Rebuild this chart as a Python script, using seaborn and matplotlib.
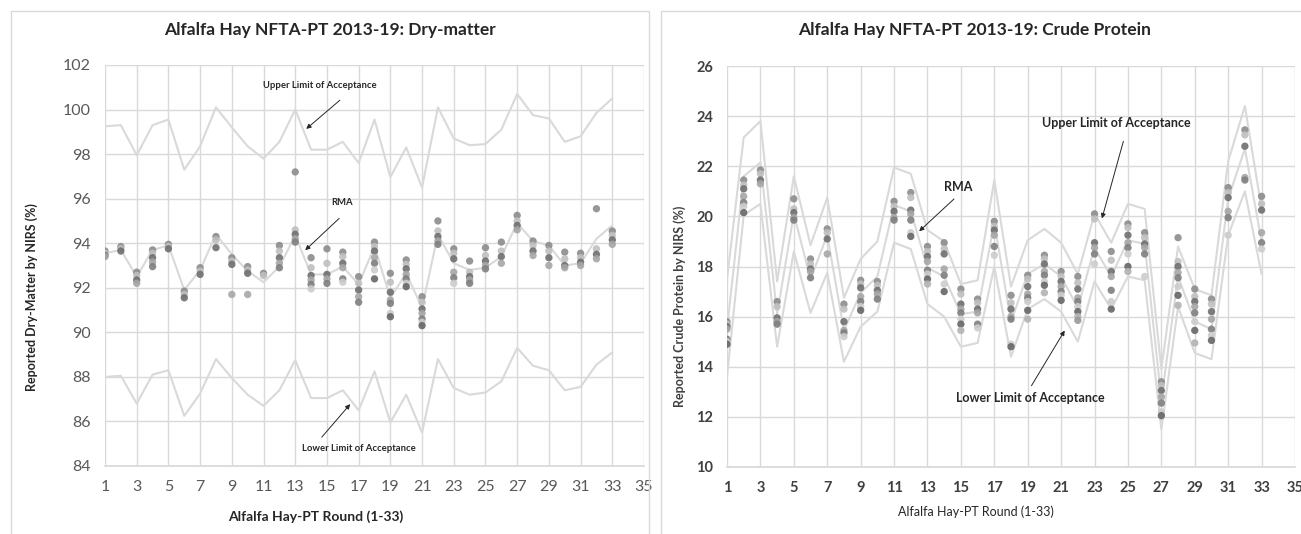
import numpy as np
import pandas as pd
import matplotlib.pyplot as plt
import seaborn as sns
from matplotlib.patches import Rectangle

rounds = list(range(1, 34))

# Dry-matter (left panel)
dm_upper = [99.25, 99.3, 97.95, 99.3, 99.55, 97.3, 98.35, 100.1, 99.2, 98.35, 97.8,
            98.55, 100.0, 98.2, 98.2, 98.55, 97.6, 99.55, 96.97, 98.3, 96.5, 100.1,
            98.7, 98.4, 98.45, 99.1, 100.7, 99.75, 99.6, 98.55, 98.8, 99.85, 100.5]
dm_rma = [93.55, 93.7, 92.5, 93.7, 93.9, 91.9, 92.8, 94.4, 93.5, 92.75, 92.25,
          92.95, 94.35, 92.6, 92.6, 92.95, 92.15, 93.85, 91.55, 92.65, 91.1, 94.4,
          93.1, 92.8, 92.9, 93.4, 94.9, 94.1, 93.9, 93.0, 93.1, 94.2, 94.8]
dm_lower = [88.0, 88.05, 86.8, 88.1, 88.3, 86.25, 87.25, 88.8, 87.95, 87.2, 86.7,
            87.4, 88.75, 87.05, 87.05, 87.4, 86.5, 88.25, 85.95, 87.2, 85.5, 88.8,
            87.5, 87.2, 87.3, 87.8, 89.3, 88.5, 88.3, 87.4, 87.55, 88.55, 89.1]
dm_points = [
    [93.65, 93.55, 93.45, 93.4],
    [93.85, 93.75, 93.65],
    [92.7, 92.55, 92.35, 92.2],
    [93.7, 93.55, 93.35, 93.15, 92.95],
    [93.95, 93.85, 93.75],
    [91.85, 91.7, 91.55],
    [92.9, 92.75, 92.6],
    [94.3, 94.15, 93.8],
    [93.35, 93.2, 93.05, 91.7],
    [92.95, 92.8, 92.65, 91.7],
    [92.65, 92.55],
    [93.9, 93.65, 93.35, 93.1, 92.9],
    [97.2, 94.6, 94.4, 94.2, 94.05],
    [93.35, 92.9, 92.55, 92.35, 92.15, 91.95],
    [93.75, 93.1, 92.6, 92.4, 92.2],
    [93.6, 93.4, 93.1, 92.9, 92.4, 92.25],
    [92.5, 92.2, 91.9, 91.6, 91.35],
    [94.05, 93.85, 93.65, 93.35, 93.1, 92.8, 92.4],
    [92.65, 92.25, 91.8, 91.45, 91.3, 90.85, 90.7],
    [93.25, 93.05, 92.85, 92.6, 92.4, 92.2, 92.05],
    [91.6, 91.35, 91.05, 90.85, 90.6, 90.45, 90.3],
    [95.0, 94.55, 94.3, 94.1, 93.95],
    [93.75, 93.55, 93.3, 92.7, 92.45, 92.2],
    [93.2, 92.7, 92.5, 92.35, 92.2],
    [93.8, 93.45, 93.2, 93.0, 92.85],
    [94.05, 93.65, 93.4, 93.1],
    [95.25, 95.0, 94.8, 94.6],
    [94.1, 93.9, 93.65, 93.45],
    [93.9, 93.65, 93.35, 93.0],
    [93.6, 93.3, 93.0, 92.9],
    [93.55, 93.35, 93.15, 93.0],
    [95.55, 93.75, 93.5, 93.3],
    [94.55, 94.35, 94.15, 93.95],
]

# Crude protein (right panel)
cp_upper = [17.5, 23.15, 23.8, 17.4, 21.6, 18.85, 20.75, 16.75, 18.3, 19.0, 21.95,
            21.7, 19.45, 19.0, 17.3, 17.45, 21.45, 17.2, 19.05, 19.5, 18.95, 17.7,
            20.1, 18.95, 20.5, 20.3, 13.9, 18.8, 17.1, 16.85, 22.2, 24.4, 20.3]
cp_rma = [15.5, 21.6, 22.15, 16.1, 20.1, 17.5, 19.25, 15.45, 16.95, 17.6, 20.45,
          20.2, 17.95, 17.6, 16.1, 16.2, 19.75, 15.8, 17.7, 18.1, 17.6, 16.35,
          18.75, 17.6, 19.05, 18.9, 12.7, 17.6, 15.8, 15.5, 20.7, 22.7, 19.0]
cp_lower = [13.6, 20.05, 20.5, 14.8, 18.6, 16.15, 17.75, 14.2, 15.6, 16.2, 18.95,
            18.7, 16.5, 16.0, 14.8, 14.95, 18.0, 14.4, 16.3, 16.7, 16.2, 15.0,
            17.4, 16.3, 17.6, 17.45, 11.5, 16.4, 14.55, 14.3, 19.25, 21.0, 17.7]
cp_points = [
    [15.8, 15.7, 15.6, 15.5, 15.1, 15.0, 14.9],
    [21.45, 21.25, 21.1, 20.8, 20.55, 20.4, 20.15],
    [21.85, 21.7, 21.45, 21.3],
    [16.6, 16.4, 15.95, 15.8, 15.7],
    [20.7, 20.3, 20.15, 19.95, 19.85],
    [18.3, 18.1, 17.9, 17.8, 17.55],
    [19.5, 19.35, 19.1, 18.5],
    [16.5, 16.3, 15.8, 15.45, 15.35, 15.2],
    [17.45, 17.3, 17.15, 16.8, 16.6, 16.4, 16.25],
    [17.4, 17.25, 17.05, 16.9, 16.7],
    [20.6, 20.4, 20.2, 19.95, 19.85],
    [20.95, 20.75, 20.25, 20.1, 19.85, 19.35, 19.2],
    [18.8, 18.6, 18.4, 18.2, 17.85, 17.7, 17.5, 17.3],
    [18.95, 18.7, 18.5, 17.9, 17.65, 17.3, 17.0],
    [17.1, 16.9, 16.5, 16.3, 16.15, 15.9, 15.7, 15.45],
    [16.7, 16.55, 16.3, 16.15, 15.7, 15.55],
    [19.8, 19.6, 19.45, 19.25, 18.8, 18.45],
    [16.85, 16.55, 16.3, 16.0, 15.9, 14.9, 14.8],
    [17.65, 17.5, 17.2, 16.9, 16.75, 16.6, 16.25, 15.9],
    [18.45, 18.3, 18.1, 17.8, 17.65, 17.4, 17.25, 16.95],
    [17.8, 17.6, 17.4, 17.2, 17.0, 16.85, 16.65],
    [17.6, 17.35, 17.1, 16.75, 16.6, 16.4, 16.2, 16.0, 15.85],
    [20.1, 19.9, 18.95, 18.75, 18.5, 18.1],
    [18.6, 18.25, 17.8, 17.6, 17.05, 16.6, 16.3],
    [19.7, 19.55, 19.25, 18.95, 18.75, 18.5, 18.0, 17.8],
    [19.35, 19.15, 18.9, 18.75, 18.5, 17.6],
    [13.4, 13.25, 13.05, 12.8, 12.55, 12.2, 12.05],
    [19.15, 18.2, 18.0, 17.75, 17.55, 17.2, 16.85, 16.45],
    [17.1, 16.8, 16.6, 16.4, 16.15, 15.8, 15.45, 14.95],
    [16.7, 16.5, 16.2, 15.9, 15.5, 15.25, 15.05],
    [21.15, 20.95, 20.75, 20.2, 19.95, 19.25],
    [23.45, 23.25, 22.8, 21.55, 21.45],
    [20.8, 20.5, 20.25, 19.35, 18.95, 18.7],
]

LINE_GREY = "#d9d9d9"
TEXT_GREY = "#595959"
lab_greys = ["#8c8c8c", "#bfbfbf", "#6f6f6f", "#a6a6a6", "#7f7f7f",
             "#cccccc", "#666666", "#b3b3b3", "#999999"]

sns.set_theme(style="white")
plt.rcParams["font.family"] = ["Lato", "DejaVu Sans"]

W, H = 1301, 534
fig = plt.figure(figsize=(W / 100, H / 100), dpi=100)


def to_long(points):
    rows = []
    for rnd, vals in zip(rounds, points):
        for lab, v in enumerate(vals):
            rows.append({"round": rnd, "lab": lab, "value": v})
    return pd.DataFrame(rows)


def px_axes(x0, x1, y_top, y_bot):
    return fig.add_axes([x0 / W, 1 - y_bot / H, (x1 - x0) / W, (y_bot - y_top) / H])


def draw_panel(ax, upper, rma, lower, points, ylim, bold_ticks):
    for series in (upper, rma, lower):
        sns.lineplot(x=rounds, y=series, color=LINE_GREY, lw=1.5, ax=ax, zorder=2)
    df = to_long(points)
    n_labs = df["lab"].nunique()
    sns.scatterplot(data=df, x="round", y="value", hue="lab",
                    palette=lab_greys[:n_labs], s=28, edgecolor="none",
                    alpha=0.9, legend=False, ax=ax, zorder=3)
    ax.set_xlim(1, 35)
    ax.set_ylim(*ylim)
    ax.set_xticks(range(1, 36, 2))
    ax.set_yticks(range(ylim[0], ylim[1] + 1, 2))
    ax.grid(True, color=LINE_GREY, lw=1.0, zorder=0)
    ax.set_axisbelow(True)
    for s in ax.spines.values():
        s.set_visible(False)
    ax.spines["bottom"].set_visible(True)
    ax.spines["bottom"].set_color(LINE_GREY)
    if bold_ticks:
        ax.tick_params(length=0, pad=10, labelsize=10.5, labelcolor="#404040")
        for t in ax.get_xticklabels() + ax.get_yticklabels():
            t.set_fontweight("bold")
    else:
        ax.tick_params(length=0, pad=10, labelsize=11.5, labelcolor=TEXT_GREY)
    ax.set_xlabel("")
    ax.set_ylabel("")


def note(ax, text, xy_text, xy_tail, xy_head, size):
    ax.text(*xy_text, text, ha="center", va="center", fontsize=size,
            fontweight="bold", color="#262626", zorder=5)
    ax.annotate("", xy=xy_head, xytext=xy_tail,
                arrowprops=dict(arrowstyle="-|>", color="#262626", lw=0.7,
                                mutation_scale=7), zorder=5)


# panel frames
for x0, x1 in [(11, 649), (661, 1305)]:
    fig.add_artist(Rectangle((x0 / W, -0.05), (x1 - x0) / W, 1.05 - 11 / H,
                             transform=fig.transFigure, fill=False,
                             edgecolor=LINE_GREY, lw=1.0))

ax1 = px_axes(105, 644, 65, 466)
draw_panel(ax1, dm_upper, dm_rma, dm_lower, dm_points, (84, 102), False)
note(ax1, "Upper Limit of Acceptance", (14.56, 101.1), (15.95, 100.5), (13.56, 99.05), 6.8)
note(ax1, "RMA", (15.95, 95.85), (15.9, 95.2), (13.5, 93.6), 6.8)
note(ax1, "Lower Limit of Acceptance", (17.03, 84.77), (14.56, 85.2), (16.58, 86.87), 6.8)

ax2 = px_axes(727, 1295, 66, 467)
draw_panel(ax2, cp_upper, cp_rma, cp_lower, cp_points, (10, 26), True)
note(ax2, "Upper Limit of Acceptance", (24.29, 23.72), (24.77, 23.1), (23.4, 19.81), 9)
note(ax2, "RMA", (14.83, 21.17), (14.71, 20.77), (12.38, 19.33), 9)
note(ax2, "Lower Limit of Acceptance", (19.14, 12.75), (19.14, 13.15), (21.3, 15.54), 9)

# titles and axis labels
fig.text(330 / W, 1 - 30 / H, "Alfalfa Hay NFTA-PT 2013-19: Dry-matter",
         ha="center", va="center", fontsize=12.5, fontweight="bold", color="#262626")
fig.text(975 / W, 1 - 30 / H, "Alfalfa Hay NFTA-PT 2013-19: Crude Protein",
         ha="center", va="center", fontsize=12.5, fontweight="bold", color="#262626")
fig.text(32 / W, 1 - 297 / H, "Reported Dry-Matter by NIRS (%)", rotation=90,
         ha="center", va="center", fontsize=9, fontweight="bold", color="#262626")
fig.text(680 / W, 1 - 306 / H, "Reported Crude Protein by NIRS (%)", rotation=90,
         ha="center", va="center", fontsize=9, fontweight="bold", color="#404040")
fig.text(316 / W, 1 - 517 / H, "Alfalfa Hay-PT Round (1-33)",
         ha="center", va="center", fontsize=10, fontweight="bold", color="#262626")
fig.text(976 / W, 1 - 512 / H, "Alfalfa Hay-PT Round (1-33)",
         ha="center", va="center", fontsize=9, color="#262626")

fig.savefig("out.png", dpi=100)
